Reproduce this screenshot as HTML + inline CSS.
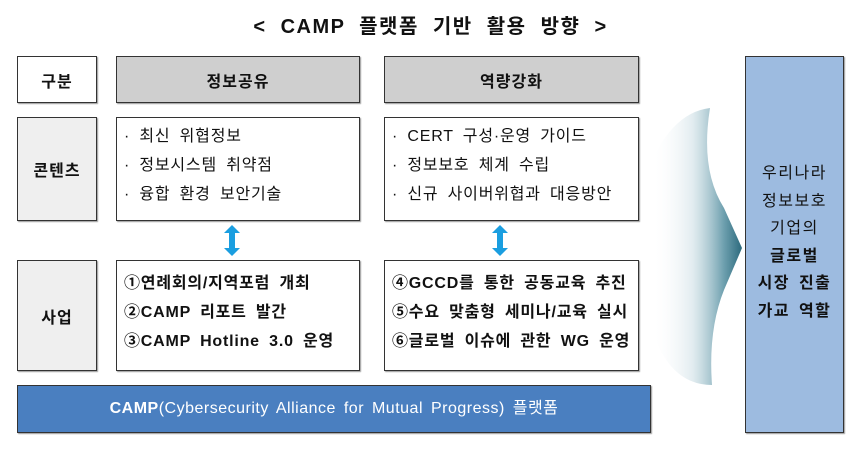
<!DOCTYPE html>
<html><head><meta charset="utf-8"><style>
body{margin:0;width:861px;height:463px;background:#fff;position:relative;overflow:hidden;font-family:"Liberation Sans","Noto Sans CJK KR",sans-serif;color:#111}
.b{position:absolute;box-sizing:border-box;border:1.5px solid #333;box-shadow:1px 1px 1px #999}
.c{display:flex;align-items:center;justify-content:center;font-weight:bold;font-size:16px;letter-spacing:1px}
.list{font-size:16px;line-height:29px;padding:4px 0 0 7px;word-spacing:4px;letter-spacing:0.8px;white-space:nowrap}
.biz{font-size:16px;font-weight:bold;line-height:29px;padding:8px 0 0 7px;word-spacing:4px;letter-spacing:0.8px;white-space:nowrap}
</style></head><body>
<div style="position:absolute;left:0;width:861px;top:10px;text-align:center;font-weight:bold;font-size:20px;letter-spacing:1.5px;word-spacing:7px">&lt; CAMP 플랫폼 기반 활용 방향 &gt;</div>

<div class="b c" style="left:17px;top:56px;width:80px;height:47px;background:#fff">구분</div>
<div class="b c" style="left:116px;top:56px;width:244px;height:47px;background:#cfcfcf">정보공유</div>
<div class="b c" style="left:384px;top:56px;width:255px;height:47px;background:#cfcfcf">역량강화</div>

<div class="b c" style="left:17px;top:117px;width:80px;height:104px;background:#efefef">콘텐츠</div>
<div class="b list" style="left:116px;top:117px;width:244px;height:104px">· 최신 위협정보<br>· 정보시스템 취약점<br>· 융합 환경 보안기술</div>
<div class="b list" style="left:384px;top:117px;width:255px;height:104px">· CERT 구성·운영 가이드<br>· 정보보호 체계 수립<br>· 신규 사이버위협과 대응방안</div>

<div class="b c" style="left:17px;top:260px;width:80px;height:111px;background:#efefef">사업</div>
<div class="b biz" style="left:116px;top:260px;width:244px;height:111px">①연례회의/지역포럼 개최<br>②CAMP 리포트 발간<br>③CAMP Hotline 3.0 운영</div>
<div class="b biz" style="left:384px;top:260px;width:255px;height:111px">④GCCD를 통한 공동교육 추진<br>⑤수요 맞춤형 세미나/교육 실시<br>⑥글로벌 이슈에 관한 WG 운영</div>

<div class="b" style="left:17px;top:385px;width:634px;height:48px;background:#4a7fc0;color:#fff;font-size:16px;letter-spacing:0.5px;word-spacing:3px;text-align:center;line-height:45px;white-space:nowrap"><span><b>CAMP</b>(Cybersecurity Alliance for Mutual Progress) 플랫폼</span></div>

<svg style="position:absolute;left:0;top:0" width="861" height="463">
<defs><linearGradient id="g" x1="0" x2="1"><stop offset="0" stop-color="#fff" stop-opacity="0"/><stop offset="0.45" stop-color="#cfe0e6" stop-opacity="0.6"/><stop offset="0.8" stop-color="#6d9fae"/><stop offset="1" stop-color="#2c6a7d"/></linearGradient></defs>
<path d="M710,108 Q700,170 724,208 L742,248 L724,290 Q708,330 712,385 Q670,385 652,330 L652,160 Q675,112 710,108 Z" fill="url(#g)"/>
<g fill="#1a9ee0">
<polygon points="232,225 240,233 235,233 235,248 240,248 232,256 224,248 229,248 229,233 224,233"/>
<polygon points="500,225 508,233 503,233 503,248 508,248 500,256 492,248 497,248 497,233 492,233"/>
</g>
</svg>

<div class="b" style="left:745px;top:56px;width:99px;height:377px;background:#9dbbe0;font-size:16px;letter-spacing:1.5px;word-spacing:3px;text-align:center;line-height:27.5px;padding-top:103px;white-space:nowrap">우리나라<br>정보보호<br>기업의<br><b>글로벌<br>시장 진출<br>가교 역할</b></div>
</body></html>
